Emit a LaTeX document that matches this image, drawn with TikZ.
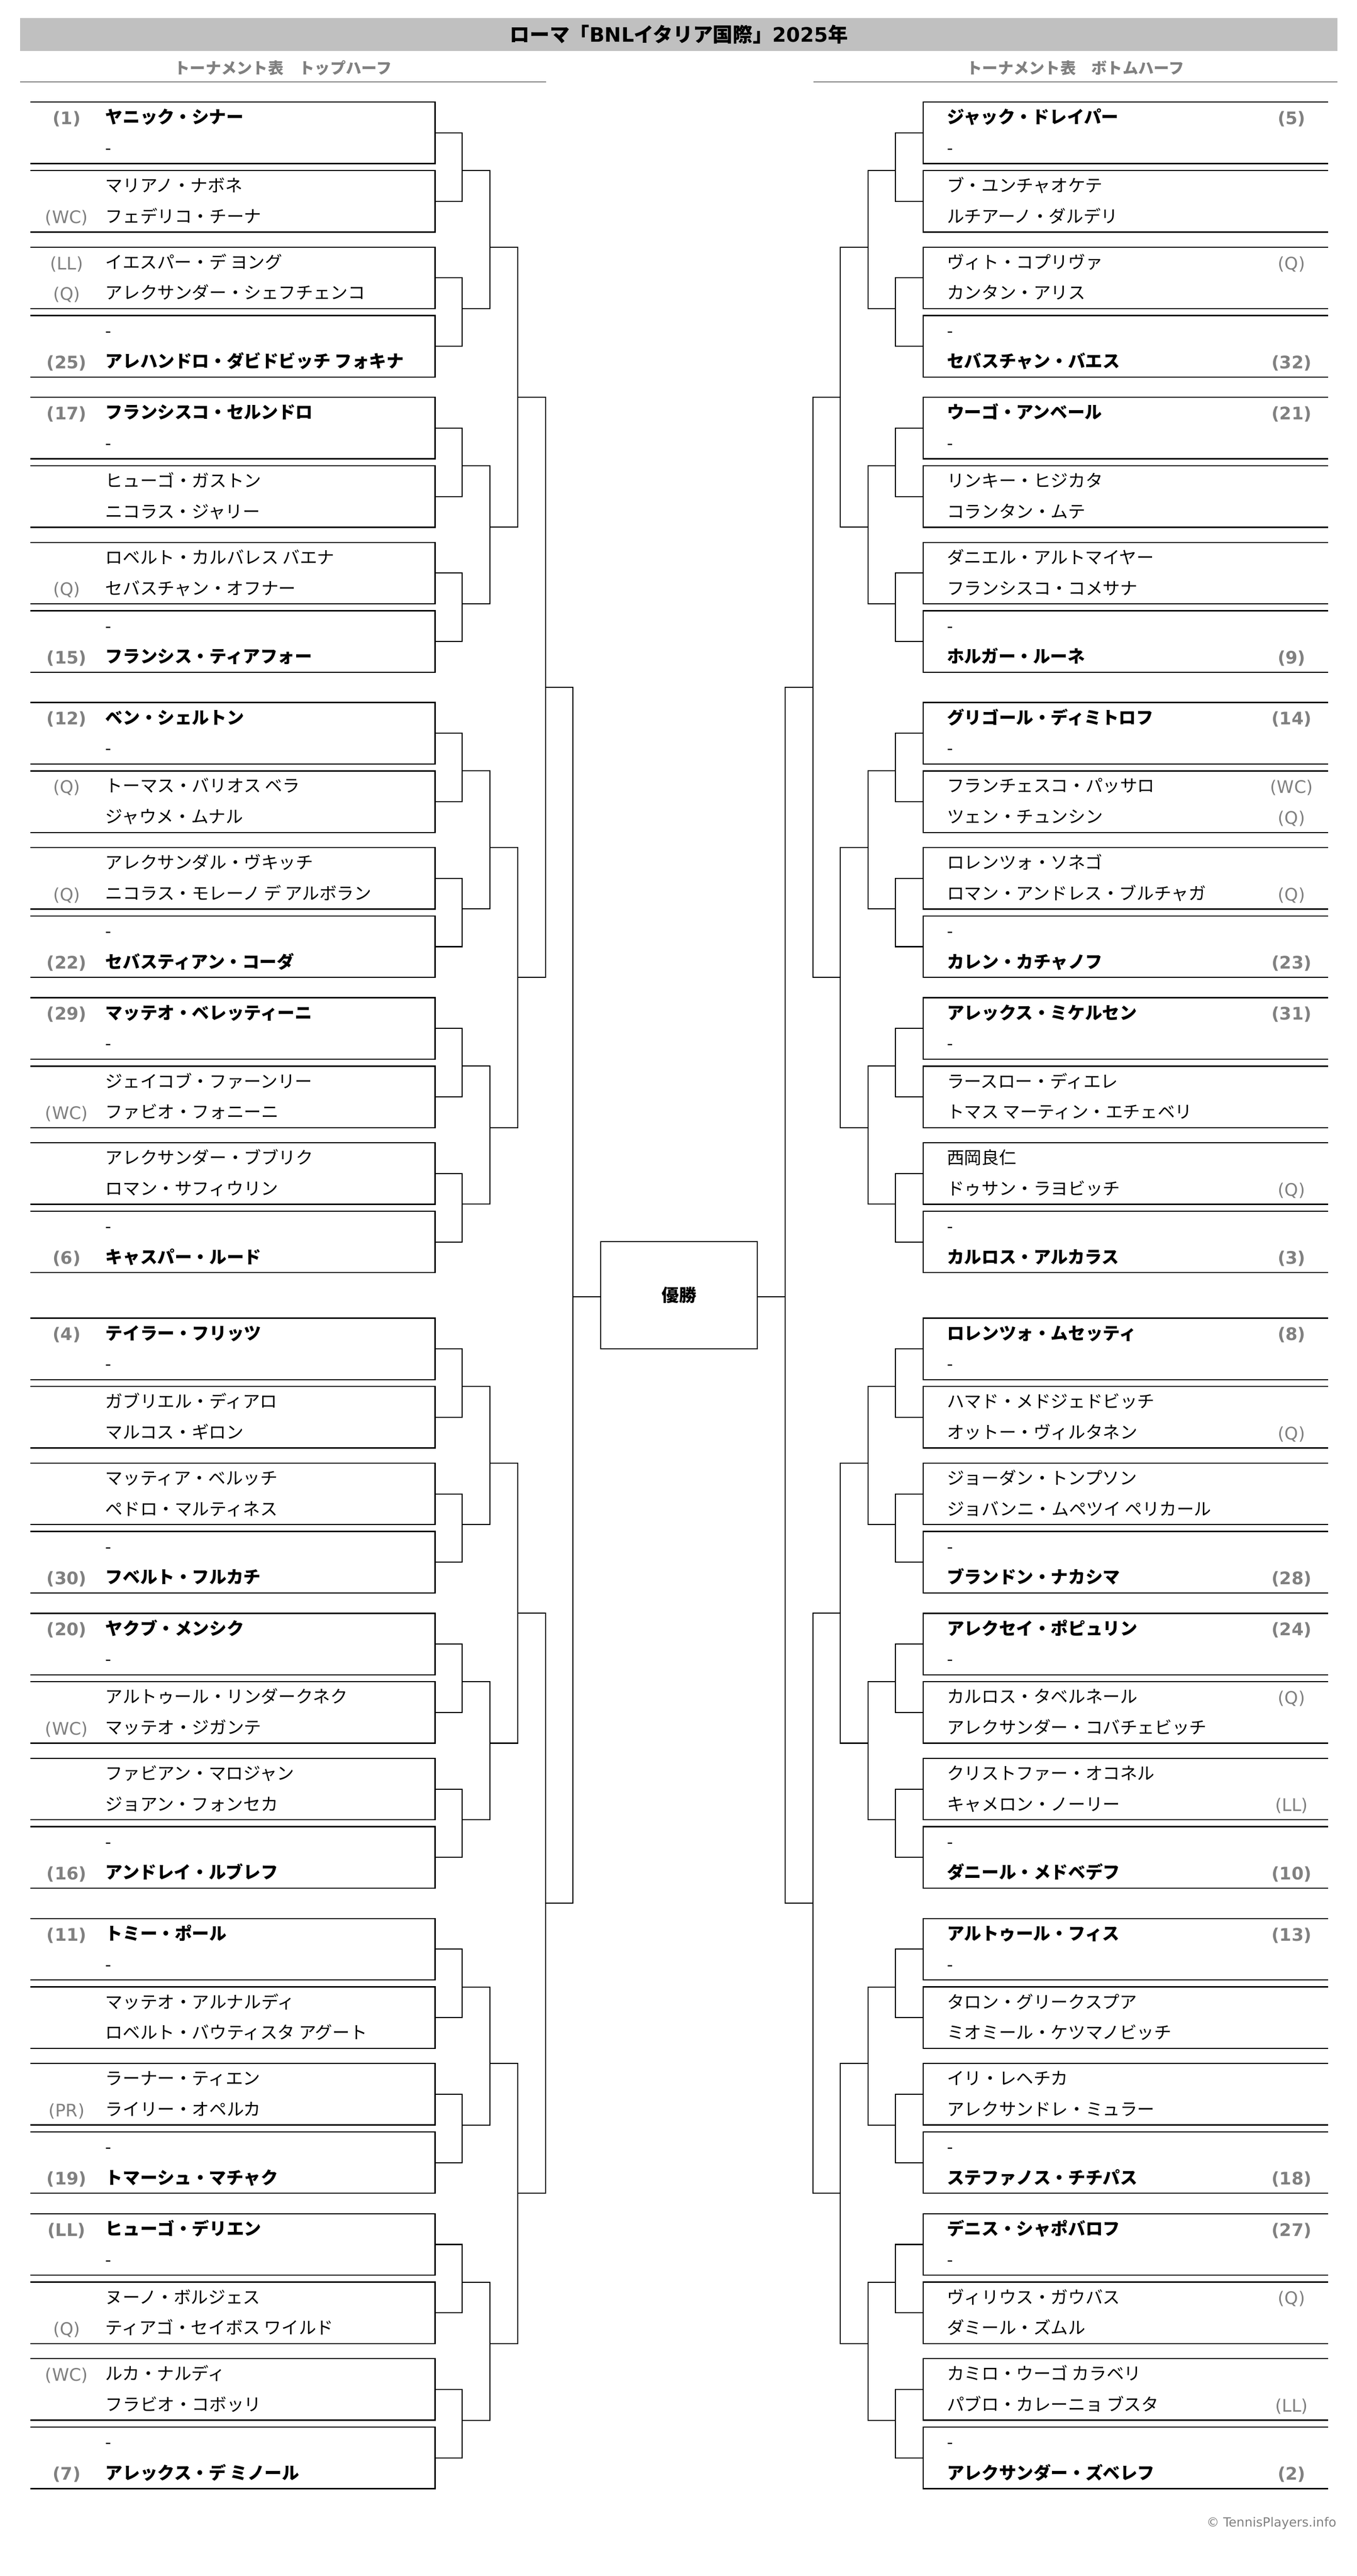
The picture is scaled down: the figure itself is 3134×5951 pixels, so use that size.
\documentclass[tikz,border=0pt]{standalone}
\usepackage{fontspec}
\setmainfont{DejaVu Sans}
\newfontfamily\jp{Noto Sans CJK JP}
\definecolor{seedgray}{HTML}{808080}
\definecolor{headgray}{HTML}{C0C0C0}
\tikzset{
  boxline/.style={line width=0.7pt, black},
  bline/.style={line width=0.62pt, black},
  nname/.style={anchor=base west, inner sep=0pt, font=\jp\fontsize{10}{12}\selectfont},
  bname/.style={anchor=base west, inner sep=0pt, font=\jp\bfseries\fontsize{10}{12}\selectfont},
  nseed/.style={anchor=base, inner sep=0pt, text=seedgray, font=\fontsize{10}{12}\selectfont},
  bseed/.style={anchor=base, inner sep=0pt, text=seedgray, font=\bfseries\fontsize{10}{12}\selectfont},
  titletext/.style={anchor=center, inner sep=0pt, font=\fontsize{11.5}{14}\selectfont},
  subhead/.style={anchor=center, inner sep=0pt, text=seedgray, font=\jp\bfseries\fontsize{9}{11}\selectfont},
  rulegray/.style={line width=0.7pt, seedgray},
}
\newcommand\Lrow[5]{%
  \node[#3name] (#1n) at (243,#2+14) {#5};
  \ifx\relax#4\relax\else\node[#3seed] (#1s) at (154,#2+16) {#4};\fi
}
\newcommand\Rrow[5]{%
  \node[#3name] (#1n) at (2187,#2+14) {#5};
  \ifx\relax#4\relax\else\node[#3seed] (#1s) at (2984,#2+16) {#4};\fi
}
\newcommand\LBox[8]{%
  \draw[boxline] (70,#2) -- (1005,#2) -- (1005,#2+142) -- (70,#2+142);
  \coordinate (#1) at (1005,#2+71);
  \Lrow{#1a}{#2+35.5}{#3}{#4}{#5}
  \Lrow{#1b}{#2+106.5}{#6}{#7}{#8}
}
\newcommand\RBox[8]{%
  \draw[boxline] (3068,#2) -- (2133,#2) -- (2133,#2+142) -- (3068,#2+142);
  \coordinate (#1) at (2133,#2+71);
  \Rrow{#1a}{#2+35.5}{#3}{#4}{#5}
  \Rrow{#1b}{#2+106.5}{#6}{#7}{#8}
}
\begin{document}
\begin{tikzpicture}[x=0.25pt, y=-0.25pt]
\useasboundingbox (0,0) rectangle (3134,5951);
% header
\fill[headgray] (47,42) rectangle (3090,118);
\node[titletext] (title) at (1568.5,80) {\bfseries\jp ローマ「\rmfamily BNL\jp イタリア国際」\rmfamily 2025\jp 年};
\node[subhead] (subL) at (654,157) {トーナメント表　トップハーフ};
\node[subhead] (subR) at (2484.5,157) {トーナメント表　ボトムハーフ};
\draw[rulegray] (47,189) -- (1261,189);
\draw[rulegray] (1879,189) -- (3090,189);
% winner
\node[draw, line width=0.62pt, minimum width=90.5pt, minimum height=62pt, inner sep=0pt,
      font=\jp\bfseries\fontsize{10}{12}\selectfont] (win) at (1569,2992) {優勝};
% ---------------- left half ----------------
\LBox{L11}{236}{b}{(1)}{ヤニック・シナー}{n}{}{-}
\LBox{L12}{394}{n}{}{マリアノ・ナボネ}{n}{(WC)}{フェデリコ・チーナ}
\LBox{L13}{571}{n}{(LL)}{イエスパー・デ ヨング}{n}{(Q)}{アレクサンダー・シェフチェンコ}
\LBox{L14}{729}{n}{}{-}{b}{(25)}{アレハンドロ・ダビドビッチ フォキナ}
\LBox{L21}{918}{b}{(17)}{フランシスコ・セルンドロ}{n}{}{-}
\LBox{L22}{1076}{n}{}{ヒューゴ・ガストン}{n}{}{ニコラス・ジャリー}
\LBox{L23}{1253}{n}{}{ロベルト・カルバレス バエナ}{n}{(Q)}{セバスチャン・オフナー}
\LBox{L24}{1411}{n}{}{-}{b}{(15)}{フランシス・ティアフォー}
\LBox{L31}{1623}{b}{(12)}{ベン・シェルトン}{n}{}{-}
\LBox{L32}{1781}{n}{(Q)}{トーマス・バリオス ベラ}{n}{}{ジャウメ・ムナル}
\LBox{L33}{1958}{n}{}{アレクサンダル・ヴキッチ}{n}{(Q)}{ニコラス・モレーノ デ アルボラン}
\LBox{L34}{2116}{n}{}{-}{b}{(22)}{セバスティアン・コーダ}
\LBox{L41}{2305}{b}{(29)}{マッテオ・ベレッティーニ}{n}{}{-}
\LBox{L42}{2463}{n}{}{ジェイコブ・ファーンリー}{n}{(WC)}{ファビオ・フォニーニ}
\LBox{L43}{2640}{n}{}{アレクサンダー・ブブリク}{n}{}{ロマン・サフィウリン}
\LBox{L44}{2798}{n}{}{-}{b}{(6)}{キャスパー・ルード}
\LBox{L51}{3045}{b}{(4)}{テイラー・フリッツ}{n}{}{-}
\LBox{L52}{3203}{n}{}{ガブリエル・ディアロ}{n}{}{マルコス・ギロン}
\LBox{L53}{3380}{n}{}{マッティア・ベルッチ}{n}{}{ペドロ・マルティネス}
\LBox{L54}{3538}{n}{}{-}{b}{(30)}{フベルト・フルカチ}
\LBox{L61}{3727}{b}{(20)}{ヤクブ・メンシク}{n}{}{-}
\LBox{L62}{3885}{n}{}{アルトゥール・リンダークネク}{n}{(WC)}{マッテオ・ジガンテ}
\LBox{L63}{4062}{n}{}{ファビアン・マロジャン}{n}{}{ジョアン・フォンセカ}
\LBox{L64}{4220}{n}{}{-}{b}{(16)}{アンドレイ・ルブレフ}
\LBox{L71}{4432}{b}{(11)}{トミー・ポール}{n}{}{-}
\LBox{L72}{4590}{n}{}{マッテオ・アルナルディ}{n}{}{ロベルト・バウティスタ アグート}
\LBox{L73}{4767}{n}{}{ラーナー・ティエン}{n}{(PR)}{ライリー・オペルカ}
\LBox{L74}{4925}{n}{}{-}{b}{(19)}{トマーシュ・マチャク}
\LBox{L81}{5114}{b}{(LL)}{ヒューゴ・デリエン}{n}{}{-}
\LBox{L82}{5272}{n}{}{ヌーノ・ボルジェス}{n}{(Q)}{ティアゴ・セイボス ワイルド}
\LBox{L83}{5449}{n}{(WC)}{ルカ・ナルディ}{n}{}{フラビオ・コボッリ}
\LBox{L84}{5607}{n}{}{-}{b}{(7)}{アレックス・デ ミノール}
% ---------------- right half ----------------
\RBox{R11}{236}{b}{(5)}{ジャック・ドレイパー}{n}{}{-}
\RBox{R12}{394}{n}{}{ブ・ユンチャオケテ}{n}{}{ルチアーノ・ダルデリ}
\RBox{R13}{571}{n}{(Q)}{ヴィト・コプリヴァ}{n}{}{カンタン・アリス}
\RBox{R14}{729}{n}{}{-}{b}{(32)}{セバスチャン・バエス}
\RBox{R21}{918}{b}{(21)}{ウーゴ・アンベール}{n}{}{-}
\RBox{R22}{1076}{n}{}{リンキー・ヒジカタ}{n}{}{コランタン・ムテ}
\RBox{R23}{1253}{n}{}{ダニエル・アルトマイヤー}{n}{}{フランシスコ・コメサナ}
\RBox{R24}{1411}{n}{}{-}{b}{(9)}{ホルガー・ルーネ}
\RBox{R31}{1623}{b}{(14)}{グリゴール・ディミトロフ}{n}{}{-}
\RBox{R32}{1781}{n}{(WC)}{フランチェスコ・パッサロ}{n}{(Q)}{ツェン・チュンシン}
\RBox{R33}{1958}{n}{}{ロレンツォ・ソネゴ}{n}{(Q)}{ロマン・アンドレス・ブルチャガ}
\RBox{R34}{2116}{n}{}{-}{b}{(23)}{カレン・カチャノフ}
\RBox{R41}{2305}{b}{(31)}{アレックス・ミケルセン}{n}{}{-}
\RBox{R42}{2463}{n}{}{ラースロー・ディエレ}{n}{}{トマス マーティン・エチェベリ}
\RBox{R43}{2640}{n}{}{西岡良仁}{n}{(Q)}{ドゥサン・ラヨビッチ}
\RBox{R44}{2798}{n}{}{-}{b}{(3)}{カルロス・アルカラス}
\RBox{R51}{3045}{b}{(8)}{ロレンツォ・ムセッティ}{n}{}{-}
\RBox{R52}{3203}{n}{}{ハマド・メドジェドビッチ}{n}{(Q)}{オットー・ヴィルタネン}
\RBox{R53}{3380}{n}{}{ジョーダン・トンプソン}{n}{}{ジョバンニ・ムペツイ ペリカール}
\RBox{R54}{3538}{n}{}{-}{b}{(28)}{ブランドン・ナカシマ}
\RBox{R61}{3727}{b}{(24)}{アレクセイ・ポピュリン}{n}{}{-}
\RBox{R62}{3885}{n}{(Q)}{カルロス・タベルネール}{n}{}{アレクサンダー・コバチェビッチ}
\RBox{R63}{4062}{n}{}{クリストファー・オコネル}{n}{(LL)}{キャメロン・ノーリー}
\RBox{R64}{4220}{n}{}{-}{b}{(10)}{ダニール・メドベデフ}
\RBox{R71}{4432}{b}{(13)}{アルトゥール・フィス}{n}{}{-}
\RBox{R72}{4590}{n}{}{タロン・グリークスプア}{n}{}{ミオミール・ケツマノビッチ}
\RBox{R73}{4767}{n}{}{イリ・レヘチカ}{n}{}{アレクサンドレ・ミュラー}
\RBox{R74}{4925}{n}{}{-}{b}{(18)}{ステファノス・チチパス}
\RBox{R81}{5114}{b}{(27)}{デニス・シャポバロフ}{n}{}{-}
\RBox{R82}{5272}{n}{(Q)}{ヴィリウス・ガウバス}{n}{}{ダミール・ズムル}
\RBox{R83}{5449}{n}{}{カミロ・ウーゴ カラベリ}{n}{(LL)}{パブロ・カレーニョ ブスタ}
\RBox{R84}{5607}{n}{}{-}{b}{(2)}{アレクサンダー・ズベレフ}
% ---------------- brackets ----------------
\foreach \sd/\xa/\xb/\xc/\xd/\xe/\wa in {L/1068/1132/1196/1260/1323/west, R/2069/2005/1941/1878/1814/east} {
  \foreach \g/\T/\k in {1/236/335,2/918/300,3/1623/335,4/2305/300,5/3045/335,6/3727/300,7/4432/335,8/5114/300} {
    \coordinate (\sd a\g) at (\xa,\T+158);
    \coordinate (\sd b\g) at (\xa,\T+477);
    \coordinate (\sd k\g) at (\xb,\T+\k);
    \draw[bline] (\sd\g1) -| (\sd a\g) |- (\sd\g2);
    \draw[bline] (\sd\g3) -| (\sd b\g) |- (\sd\g4);
    \draw[bline] (\sd a\g) -| (\sd k\g) |- (\sd b\g);
  }
  \coordinate (\sd q1) at (\xc,918);
  \coordinate (\sd q2) at (\xc,2258);
  \coordinate (\sd q3) at (\xc,3727);
  \coordinate (\sd q4) at (\xc,5067);
  \draw[bline] (\sd k1) -| (\sd q1) |- (\sd k2);
  \draw[bline] (\sd k3) -| (\sd q2) |- (\sd k4);
  \draw[bline] (\sd k5) -| (\sd q3) |- (\sd k6);
  \draw[bline] (\sd k7) -| (\sd q4) |- (\sd k8);
  \coordinate (\sd r1) at (\xd,1588);
  \coordinate (\sd r2) at (\xd,4397);
  \draw[bline] (\sd q1) -| (\sd r1) |- (\sd q2);
  \draw[bline] (\sd q3) -| (\sd r2) |- (\sd q4);
  \coordinate (\sd s) at (\xe,2996);
  \draw[bline] (\sd r1) -| (\sd s) |- (\sd r2);
  \draw[bline] (\sd s) -- (\sd s -| win.\wa);
}
% copyright
\node[anchor=base east, inner sep=0pt, text=seedgray, font=\fontsize{7.3}{9}\selectfont] (copy) at (3088,5837) {© TennisPlayers.info};
\end{tikzpicture}
\end{document}
